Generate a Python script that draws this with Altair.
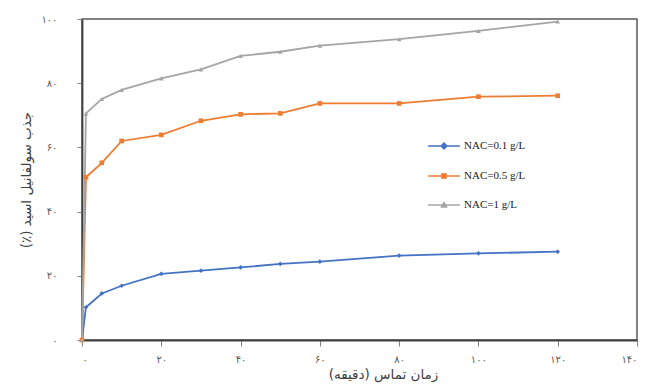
import altair as alt
import pandas as pd

# ---- data ----
times = [0, 1, 5, 10, 20, 30, 40, 50, 60, 80, 100, 120]
series_names = ["NAC=0.1 g/L", "NAC=0.5 g/L", "NAC=1 g/L"]
nac_01 = [0, 10.2, 14.5, 16.9, 20.6, 21.6, 22.6, 23.7, 24.4, 26.3, 27.0, 27.5]
nac_05 = [0, 50.7, 55.2, 62.0, 63.9, 68.3, 70.3, 70.6, 73.7, 73.7, 75.8, 76.1]
nac_1 = [0, 70.6, 75.1, 77.9, 81.5, 84.3, 88.5, 89.8, 91.7, 93.7, 96.3, 99.2]
series_colors = ["#4472C4", "#ED7D31", "#A5A5A5"]
series_shapes = ["diamond", "square", "triangle-up"]
# legend symbols: a short line with the series marker on it (Excel style)
legend_shapes = [
    "M-1,0L1,0M0,-0.18L0.18,0L0,0.18L-0.18,0Z",
    "M-1,0L1,0M-0.13,-0.13L0.13,-0.13L0.13,0.13L-0.13,0.13Z",
    "M-1,0L1,0M0,-0.15L0.15,0.12L-0.15,0.12Z",
]

x_ticks = [0, 20, 40, 60, 80, 100, 120, 140]
x_tick_labels = ["۰", "۲۰", "۴۰", "۶۰", "۸۰", "۱۰۰", "۱۲۰", "۱۴۰"]
y_ticks = [0, 20, 40, 60, 80, 100]
y_tick_labels = ["۰", "۲۰", "۴۰", "۶۰", "۸۰", "۱۰۰"]

RLE, PDF = "\u202b", "\u202c"
x_title = RLE + "زمان تماس (دقیقه)" + PDF
y_title = RLE + "جذب سولفانیل اسید (٪)" + PDF

rows = []
for order, (name, vals) in enumerate(zip(series_names, [nac_01, nac_05, nac_1])):
    for t, v in zip(times, vals):
        rows.append({"t": t, "v": v, "s": name, "o": order})
df = pd.DataFrame(rows)


def label_expr(vals, labels):
    expr = "''"
    for v, l in reversed(list(zip(vals, labels))):
        expr = f"datum.value == {v} ? '{l}' : ({expr})"
    return expr


x_enc = alt.X("t:Q", scale=alt.Scale(domain=[0, 140], nice=False),
              axis=alt.Axis(values=x_ticks, labelExpr=label_expr(x_ticks, x_tick_labels),
                            title=x_title, grid=False, tickSize=6, labelPadding=8,
                            titlePadding=3, labelFontSize=10, titleFontSize=13.5,
                            titleX=301, titleAlign="center"))
y_enc = alt.Y("v:Q", scale=alt.Scale(domain=[0, 100], nice=False),
              axis=alt.Axis(values=y_ticks, labelExpr=label_expr(y_ticks, y_tick_labels),
                            title=y_title, grid=False, tickSize=5, labelPadding=20,
                            titlePadding=7, labelFontSize=10, titleFontSize=13.5))

color_plain = alt.Color("s:N", scale=alt.Scale(domain=series_names, range=series_colors),
                        legend=None)
shape_plain = alt.Shape("s:N", scale=alt.Scale(domain=series_names, range=series_shapes),
                        legend=None)

legend_props = dict(title=None, orient="none", legendX=345, legendY=110, padding=0,
                    labelFont="Liberation Serif", labelFontSize=11, labelColor="#222222",
                    labelOffset=3, symbolSize=1000, rowPadding=6, symbolOpacity=1,
                    symbolStrokeWidth=1.6)

base = alt.Chart(df)
lines = base.mark_line(strokeWidth=1.8).encode(
    x=x_enc, y=y_enc, color=color_plain, detail="s:N", order="t:Q")
points = base.mark_point(filled=True, size=22, opacity=1).encode(
    x=x_enc, y=y_enc, color=color_plain, shape=shape_plain)
legend_layer = base.mark_point(filled=True, opacity=0).encode(
    x=x_enc, y=y_enc,
    color=alt.Color("s:N", scale=alt.Scale(domain=series_names, range=series_colors),
                    legend=alt.Legend(**legend_props)),
    stroke=alt.Stroke("s:N", scale=alt.Scale(domain=series_names, range=series_colors),
                      legend=alt.Legend(**legend_props)),
    shape=alt.Shape("s:N", scale=alt.Scale(domain=series_names, range=legend_shapes),
                    legend=alt.Legend(**legend_props)),
)

chart = alt.layer(lines, points, legend_layer).resolve_scale(
    color="independent", shape="independent", stroke="independent"
).properties(
    width=555, height=321,
    autosize=alt.AutoSizeParams(type="none"),
    padding={"left": 74, "top": 11, "right": 4, "bottom": 44},
).configure_view(
    stroke="#595959", strokeWidth=1.5
).configure_axis(
    domainColor="#404040", domainWidth=1.8, tickColor="#808080",
    labelColor="#595959", titleColor="#404040",
    labelFont="DejaVu Sans", titleFont="DejaVu Sans", titleFontWeight="normal"
)

chart.save("out.html", embed_options={"renderer": "svg", "actions": False})
